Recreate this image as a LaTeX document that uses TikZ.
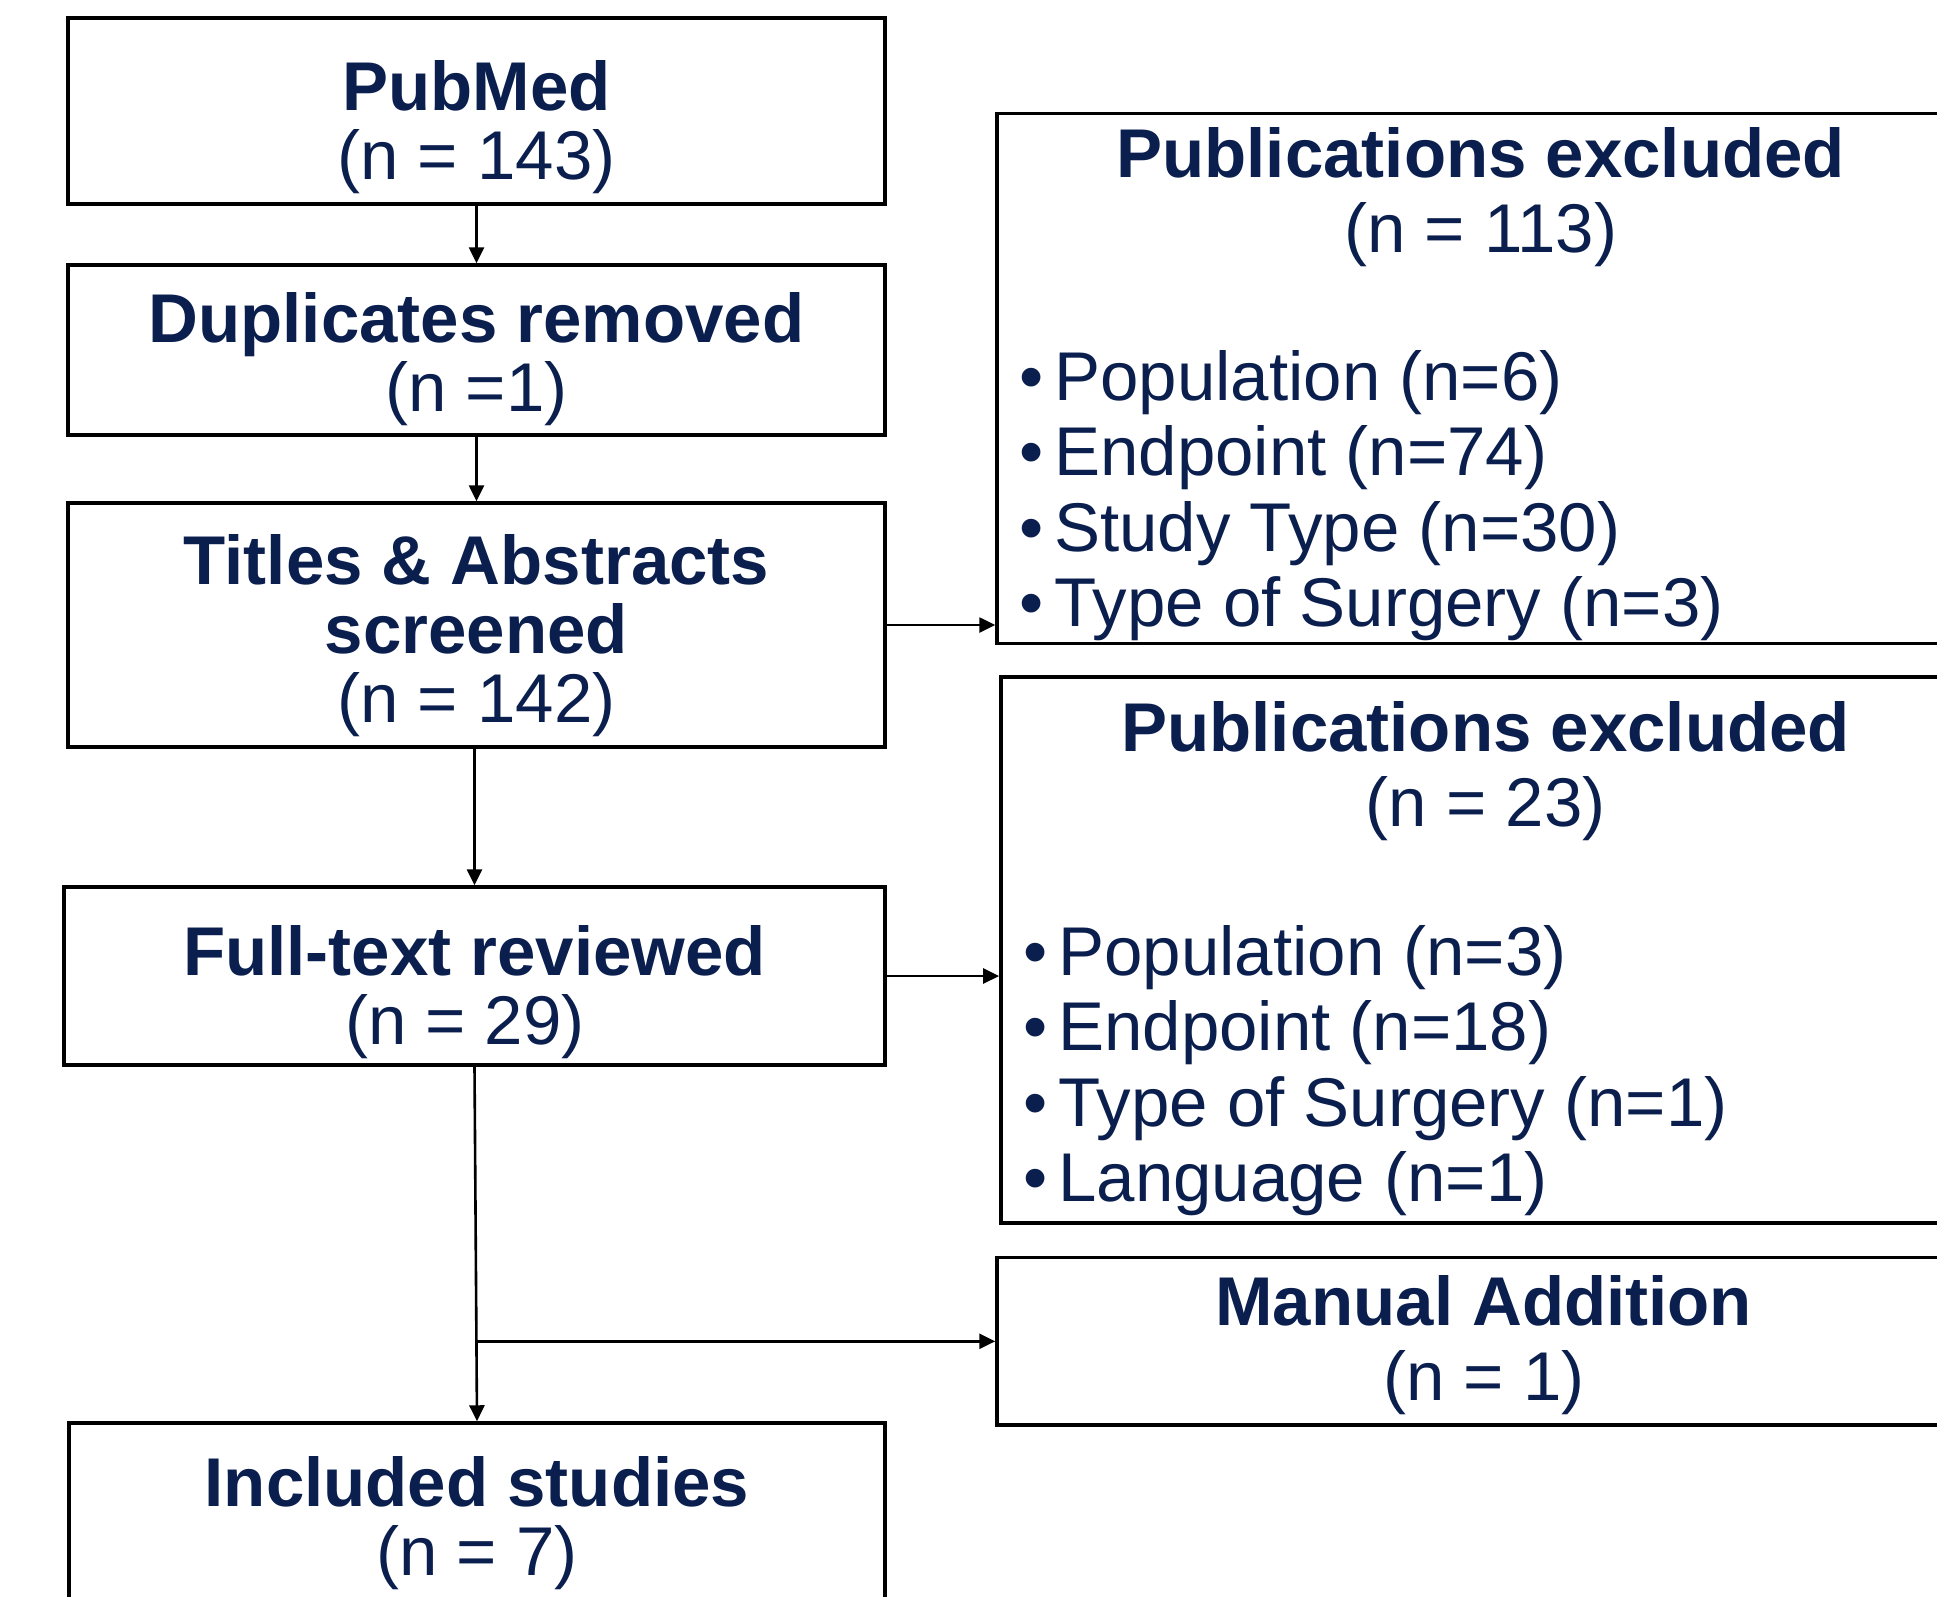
\documentclass[tikz,border=0pt]{standalone}
\usepackage{fontspec}
\setmainfont{Liberation Sans}
\usetikzlibrary{arrows.meta}

\definecolor{FlowNavy}{HTML}{0B1F4E}
\tikzstyle{flow-box}=[draw, line width=1.75pt, inner sep=0pt]
\tikzstyle{box-text}=[text=FlowNavy, align=center, inner sep=0pt, anchor=north, font=\fontsize{34.5pt}{34.5pt}\selectfont]
\tikzstyle{head-text}=[box-text, font=\fontsize{34.5pt}{37.5pt}\selectfont]
\tikzstyle{list-text}=[text=FlowNavy, align=left, inner sep=0pt, anchor=north west, font=\fontsize{34.5pt}{37.75pt}\selectfont]
\tikzstyle{flow-arrow}=[line width=1.3pt, -{Triangle[length=8pt,width=7.5pt]}]
\newcommand{\listdot}{\makebox[17.5pt][l]{\textbullet}}

\begin{document}
\begin{tikzpicture}[x=0.5pt, y=-0.5pt]
  \useasboundingbox (0,0) rectangle (1937,1596);
  \clip (0,0) rectangle (1937,1596);

  % left column
  \node (pubmed) at (476.5,111) [flow-box, minimum width=408.5pt, minimum height=93pt] {};
  \node (dupl) at (476.5,350) [flow-box, minimum width=408.5pt, minimum height=85pt] {};
  \node (titles) at (476.5,625) [flow-box, minimum width=408.5pt, minimum height=122pt] {};
  \node (fulltext) at (474.5,976) [flow-box, minimum width=410.5pt, minimum height=89pt] {};
  \node (included) at (477,1531.5) [flow-box, minimum width=408pt, minimum height=108.5pt] {};

  \node (pubmed-text) at (476.5,60) [box-text] {\textbf{PubMed}\\(n = 143)};
  \node (dupl-text) at (476.5,292) [box-text] {\textbf{Duplicates removed}\\(n =1)};
  \node (titles-text) at (476.5,534) [box-text] {\textbf{Titles \& Abstracts}\\\textbf{screened}\\(n = 142)};
  \node (fulltext-text) at (474.5,925) [box-text] {\textbf{Full-text reviewed}\\(n = 29)\hspace*{0.278em}};
  \node (included-text) at (477,1456) [box-text] {\textbf{Included studies}\\(n = 7)};

  % right column
  \node (excl1) at (1481,378.7) [flow-box, minimum width=484pt, minimum height=265pt] {};
  \node (excl2) at (1485.4,950) [flow-box, minimum width=484.5pt, minimum height=273pt] {};
  \node (manual) at (1483.5,1341.3) [flow-box, minimum width=486.5pt, minimum height=83.7pt] {};

  \node (excl1-text) at (1480.7,127) [head-text] {\textbf{Publications excluded}\\(n = 113)};
  \node (excl1-list) at (1019,350) [list-text] {\listdot Population (n=6)\\\listdot Endpoint (n=74)\\\listdot Study Type (n=30)\\\listdot Type of Surgery (n=3)};
  \node (excl2-text) at (1485.6,701) [head-text] {\textbf{Publications excluded}\\(n = 23)};
  \node (excl2-list) at (1023,925) [list-text] {\listdot Population (n=3)\\\listdot Endpoint (n=18)\\\listdot Type of Surgery (n=1)\\\listdot Language (n=1)};
  \node (manual-text) at (1483.8,1275) [head-text] {\textbf{Manual Addition}\\(n = 1)};

  % connectors
  \coordinate (branch) at (included.north |- manual.west);
  \draw[flow-arrow] (pubmed) -- (dupl);
  \draw[flow-arrow] (dupl) -- (titles);
  \draw[flow-arrow] (fulltext.north |- titles.south) -- (fulltext.north);
  \draw[flow-arrow] (fulltext.south) -- (included.north);
  \draw[flow-arrow] (titles.east) -- (titles.east -| excl1.west);
  \draw[flow-arrow] (fulltext.east) -- (fulltext.east -| excl2.west);
  \draw[flow-arrow] (branch) -- (manual.west);
\end{tikzpicture}
\end{document}
